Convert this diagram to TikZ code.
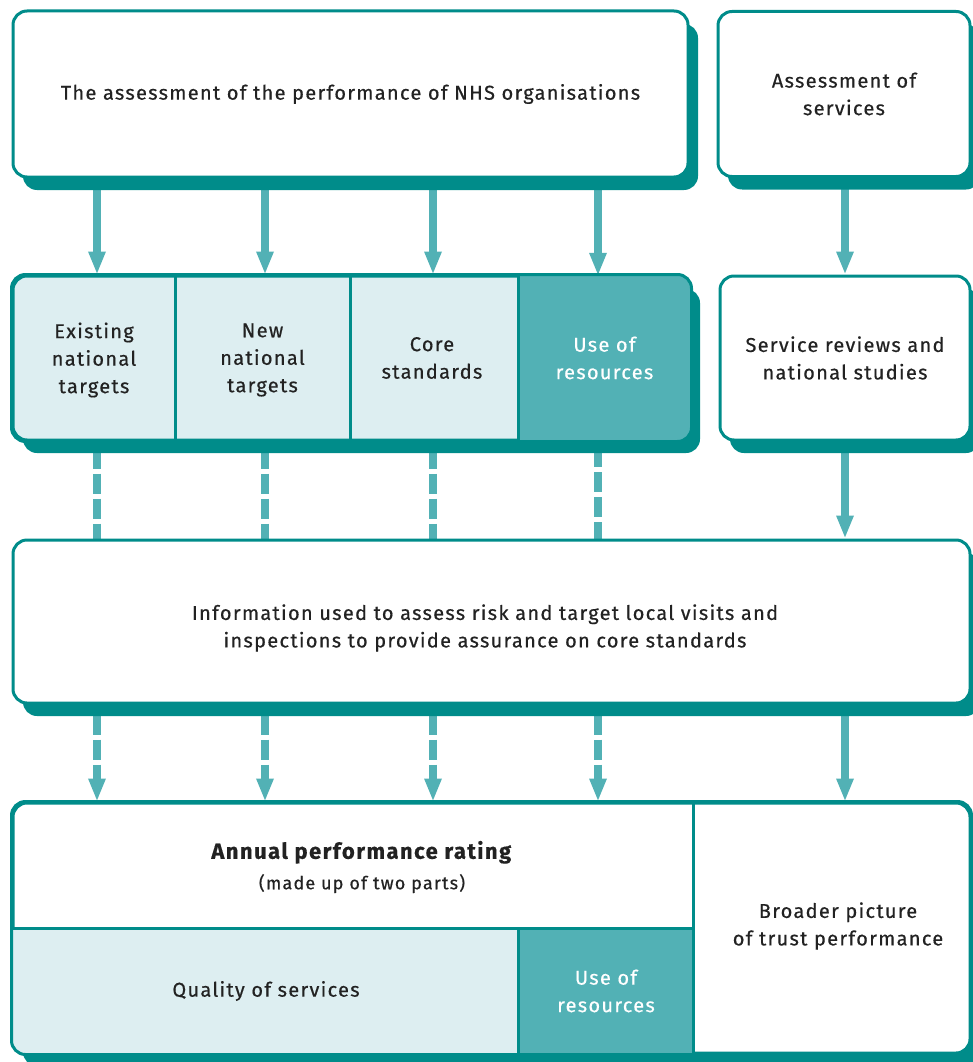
\documentclass[tikz,border=0pt]{standalone}
\usepackage{fontspec}
\setmainfont{Fira Sans}[LetterSpace=6.5,FakeBold=0.5]
\usetikzlibrary{arrows.meta,shadows,backgrounds}
\definecolor{tdark}{HTML}{008C8A}
\definecolor{tmid}{HTML}{52B1B5}
\definecolor{tlight}{HTML}{DDEEF1}
\definecolor{txtc}{HTML}{222222}
\begin{document}
\begin{tikzpicture}[x=1pt,y=-1pt,
  font=\fontsize{20}{27.5}\selectfont,
  box/.style={draw=tdark,line width=3pt,rounded corners=14pt,fill=white,inner sep=0pt,align=center,text=txtc,
    drop shadow={shadow xshift=10pt,shadow yshift=-13pt,fill=tdark,opacity=1}},
  cell/.style={inner sep=0pt,align=center,text=txtc},
  border/.style={draw=tdark,line width=3pt},
  arr/.style={draw=tmid,line width=8.5pt,-{Triangle[length=23pt,width=16pt]}},
  dsh/.style={draw=tmid,line width=8.5pt,dash pattern=on 20pt off 5pt,dash phase=18pt},
  darr/.style={draw=tmid,line width=8.5pt,dash pattern=on 20pt off 5pt,dash phase=15pt,-{Triangle[length=23pt,width=16pt]}}]
\useasboundingbox (0,0) rectangle (973,1062);

% top row
\node[box,minimum width=675pt,minimum height=166pt] (top) at (350.5,94) {The assessment of the performance of NHS organisations};
\node[box,minimum width=252pt,minimum height=165pt] (asv) at (844,94) {Assessment of\\services};

% second row group
\node[box,fill=tlight,minimum width=677pt,minimum height=164pt] (grp) at (351.5,358) {};
\begin{scope}
  \clip[rounded corners=14pt] (grp.north west) rectangle (grp.south east);
  \node[cell,fill=tmid,text=white,minimum width=171pt,minimum height=164pt] (use) at (604.5,358) {Use of\\resources};
\end{scope}
\node[cell,minimum width=162pt,minimum height=164pt] (exc) at (94,360) {Existing\\national\\targets};
\node[cell,minimum width=175pt,minimum height=164pt] (newc) at (262.5,360) {New\\national\\targets};
\node[cell,minimum width=169pt,minimum height=164pt] (core) at (432,358) {Core\\standards};
\draw[border,rounded corners=14pt] (grp.north west) rectangle (grp.south east);
\draw[border] (175,276) -- (175,440);
\draw[border] (350,276) -- (350,440);
\draw[border] (use.north west) -- (use.south west);

\node[box,minimum width=250pt,minimum height=164pt] (srv) at (845,358) {Service reviews and\\national studies};

% info box
\node[box,minimum width=957pt,minimum height=163pt] (info) at (491.5,621.5) {};
\node[cell] (infot) at (485,628) {Information used to assess risk and target local visits and\\inspections to provide assurance on core standards};

% bottom group
\node[box,minimum width=957pt,minimum height=250pt] (bot) at (491.5,928) {};
\begin{scope}
  \clip[rounded corners=14pt] (bot.north west) rectangle (bot.south east);
  \node[cell,fill=tlight,minimum width=506pt,minimum height=124pt] (qos) at (266,991) {Quality of services};
  \node[cell,fill=tmid,text=white,minimum width=174pt,minimum height=124pt] (uor) at (606,991) {Use of\\resources};
\end{scope}
\node[cell,minimum width=680pt,minimum height=126pt] (apr) at (353,866) {};
\node[cell] (aprt) at (362,867) {{\fontsize{22}{27}\selectfont\textbf{Annual performance rating}}\\[3pt]{\fontsize{18}{20}\selectfont (made up of two parts)}};
\node[cell,minimum width=277pt,minimum height=250pt] (bpt) at (838,926) {Broader picture\\of trust performance};
\draw[border,rounded corners=14pt] (bot.north west) rectangle (bot.south east);
\draw[border] (qos.north west) -- (uor.north east);
\draw[border] (uor.north west) -- (uor.south west);
\draw[border] (uor.north east |- bot.south) -- (uor.north east |- bot.north);

% connectors
\coordinate (c1) at (97,0);
\coordinate (c2) at (265,0);
\coordinate (c3) at (433,0);
\coordinate (c4) at (598,0);
\coordinate (c5) at (845,0);
\begin{scope}[on background layer]
  \draw[arr] (top.south -| c1) -- (grp.north -| c1);
  \draw[arr] (top.south -| c2) -- (grp.north -| c2);
  \draw[arr] (top.south -| c3) -- (grp.north -| c3);
  \draw[arr] (top.south -| c4) -- (use.north -| c4);
  \draw[arr] (asv.south -| c5) -- (srv.north -| c5);
  \draw[dsh] (grp.south -| c1) -- (info.north -| c1);
  \draw[dsh] (grp.south -| c2) -- (info.north -| c2);
  \draw[dsh] (grp.south -| c3) -- (info.north -| c3);
  \draw[dsh] (use.south -| c4) -- (info.north -| c4);
  \draw[arr] (srv.south -| c5) -- (info.north -| c5);
  \draw[darr] (info.south -| c1) -- (bot.north -| c1);
  \draw[darr] (info.south -| c2) -- (bot.north -| c2);
  \draw[darr] (info.south -| c3) -- (bot.north -| c3);
  \draw[darr] (info.south -| c4) -- (bot.north -| c4);
  \draw[arr] (info.south -| c5) -- (bot.north -| c5);
\end{scope}
\end{tikzpicture}
\end{document}
